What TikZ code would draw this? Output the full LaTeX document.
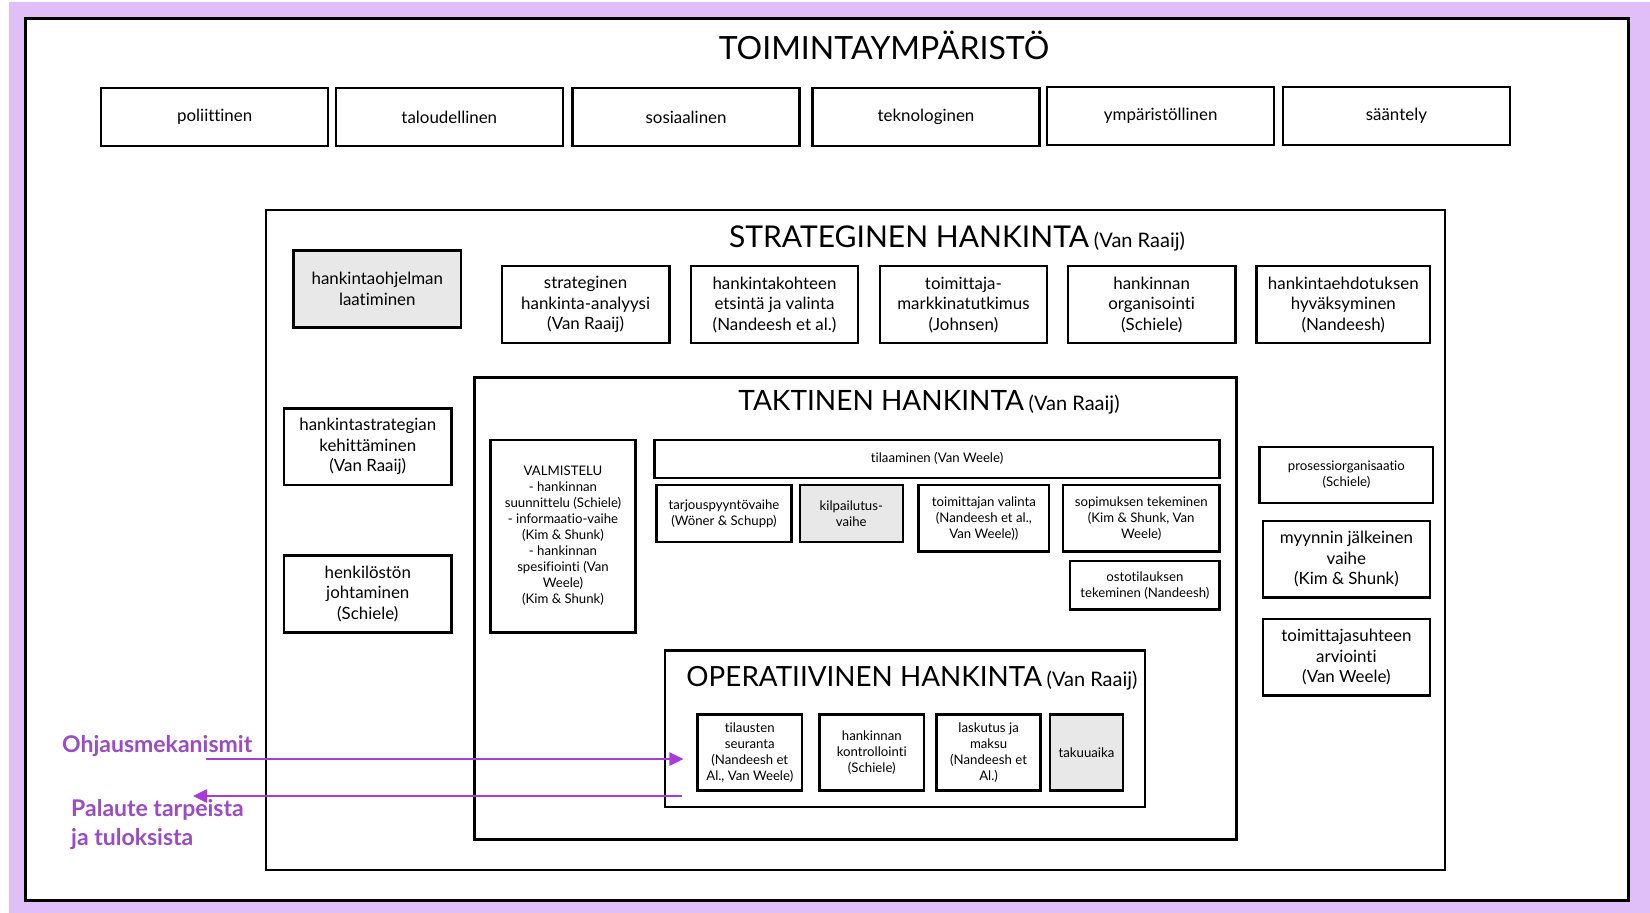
\documentclass[tikz,border=0pt]{standalone}
\usepackage{fontspec}
\setmainfont{Lato}[Ligatures=NoCommon]
\usetikzlibrary{arrows.meta}
\definecolor{bgpurple}{HTML}{E0BEF8}
\definecolor{arrowpurple}{HTML}{A93BDB}
\definecolor{labelpurple}{HTML}{9A4CC4}
\definecolor{boxgray}{HTML}{E8E8E8}
\newcommand\fsz[2]{\fontsize{#1}{#2}\selectfont}
\begin{document}
\begin{tikzpicture}[x=1pt,y=-1pt,
  box/.style={draw, line width=2.5pt, fill=white, align=center, inner sep=1pt, font=\fsz{16.9}{20.5}},
  smallbox/.style={box, font=\fsz{13.2}{16}},
  graybox/.style={fill=boxgray},
  frame/.style={draw, line width=2.7pt, fill=white, inner sep=0pt},
  ctrl/.style={draw=arrowpurple, line width=2.6pt, -{Triangle[length=14pt,width=13pt]}},
  ctrllabel/.style={text=labelpurple, font=\fsz{23}{29}\bfseries, align=left, inner sep=0pt}]
\useasboundingbox (0,0) rectangle (1650,913);
\fill[bgpurple] (9,2) rectangle (1650,913);
\node[frame, line width=3pt, minimum width=1603, minimum height=882] (env) at (826.5,459) {};
\node[anchor=base, font=\fsz{32}{36}] (envtitle) at (884,59) {TOIMINTAYMPÄRISTÖ};
\node[box, minimum width=227, minimum height=58] (pol) at (214.7,117) {poliittinen};
\node[box, minimum width=227, minimum height=58] (tal) at (449.3,117) {taloudellinen};
\node[box, minimum width=227, minimum height=58] (sos) at (686.1,117) {sosiaalinen};
\node[box, minimum width=227, minimum height=58] (tek) at (926,117) {teknologinen};
\node[box, minimum width=227, minimum height=58] (ymp) at (1160.7,116) {ympäristöllinen};
\node[box, minimum width=227, minimum height=58] (saa) at (1396.4,116) {sääntely};
\node[frame, minimum width=1179, minimum height=660] (strat) at (855.5,540) {};
\node[anchor=base] (strattitle) at (957,247) {\fsz{30}{34}STRATEGINEN HANKINTA\,\fsz{20}{24}(Van Raaij)};
\node[box, graybox, minimum width=167.3, minimum height=76.8] (ohjelma) at (377.3,288.9) {hankintaohjelman\\laatiminen};
\node[box, minimum width=167.3, minimum height=76.8] (analyysi) at (585.6,304.6) {strateginen\\hankinta-analyysi\\(Van Raaij)};
\node[box, minimum width=167.3, minimum height=76.8] (kohde) at (774.5,304.6) {hankintakohteen\\etsintä ja valinta\\(Nandeesh et al.)};
\node[box, minimum width=167.3, minimum height=76.8] (markkina) at (963.4,304.6) {toimittaja-\\markkinatutkimus\\(Johnsen)};
\node[box, minimum width=167.3, minimum height=76.8] (organ) at (1151.7,304.6) {hankinnan\\organisointi\\(Schiele)};
\node[box, minimum width=173.6, minimum height=76.8] (hyvaks) at (1343.3,304.6) {hankintaehdotuksen\\hyväksyminen\\(Nandeesh)};
\node[box, minimum width=167.3, minimum height=76.8] (kehitys) at (367.8,446.7) {hankintastrategian\\kehittäminen\\(Van Raaij)};
\node[box, minimum width=167.3, minimum height=76.8] (henkilo) at (367.8,594) {henkilöstön\\johtaminen\\(Schiele)};
\node[smallbox, minimum width=173.6, minimum height=55.8] (prosessi) at (1346.4,475.1) {prosessiorganisaatio\\(Schiele)};
\node[box, minimum width=167.3, minimum height=76.8] (myynti) at (1346.4,559.3) {myynnin jälkeinen\\vaihe\\(Kim \& Shunk)};
\node[box, minimum width=167.3, minimum height=76.8] (suhde) at (1346.4,657.2) {toimittajasuhteen\\arviointi\\(Van Weele)};
\node[frame, minimum width=762, minimum height=462] (takt) at (855.5,608.7) {};
\node[anchor=base] (takttitle) at (929,410) {\fsz{28}{32}TAKTINEN HANKINTA\,\fsz{20}{24}(Van Raaij)};
\node[smallbox, minimum width=145.2, minimum height=192.6] (valm) at (563,536.1) {VALMISTELU\\- hankinnan\\suunnittelu (Schiele)\\- informaatio-vaihe\\(Kim \& Shunk)\\- hankinnan\\spesifiointi (Van\\Weele)\\(Kim \& Shunk)};
\node[smallbox, minimum width=565, minimum height=37.9] (tilaus) at (937.1,458.8) {tilaaminen (Van Weele)};
\node[smallbox, minimum width=134.7, minimum height=56.8] (tarjous) at (724,513.5) {tarjouspyyntövaihe\\(Wöner \& Schupp)};
\node[smallbox, graybox, minimum width=103.1, minimum height=56.8] (kilpailu) at (851.3,513.5) {kilpailutus-\\vaihe};
\node[smallbox, minimum width=130.5, minimum height=66.3] (valinta) at (983.9,518.3) {toimittajan valinta\\(Nandeesh et al.,\\Van Weele))};
\node[smallbox, minimum width=156.8, minimum height=66.3] (sopimus) at (1141.2,518.3) {sopimuksen tekeminen\\(Kim \& Shunk, Van\\Weele)};
\node[smallbox, minimum width=149.4, minimum height=48.4] (osto) at (1144.9,585.1) {ostotilauksen\\tekeminen (Nandeesh)};
\node[frame, minimum width=479.8, minimum height=156.8] (oper) at (905,728.7) {};
\node[anchor=base] (opertitle) at (912,686) {\fsz{27.8}{32}OPERATIIVINEN HANKINTA\,\fsz{20}{24}(Van Raaij)};
\node[smallbox, minimum width=104.2, minimum height=75.8] (seur) at (749.8,752.4) {tilausten\\seuranta\\(Nandeesh et\\Al., Van Weele)};
\node[smallbox, minimum width=104.2, minimum height=75.8] (kontr) at (871.8,752.4) {hankinnan\\kontrollointi\\(Schiele)};
\node[smallbox, minimum width=104.2, minimum height=75.8] (lasku) at (988.6,752.4) {laskutus ja\\maksu\\(Nandeesh et\\Al.)};
\node[smallbox, graybox, minimum width=72.6, minimum height=75.8] (takuu) at (1086.5,752.4) {takuuaika};
\node[ctrllabel, anchor=west] (ohjlabel) at (62,746) {Ohjausmekanismit};
\node[ctrllabel, anchor=west] (palabel) at (71,824.5) {Palaute tarpeista\\ja tuloksista};
\coordinate (ctrlin) at (206,759);
\coordinate (fbstart) at (682,796);
\coordinate (fbend) at (193,796);
\draw[ctrl, shorten >=13pt] (ctrlin) -- (seur.west |- ctrlin);
\draw[ctrl] (fbstart) -- (fbend);
\end{tikzpicture}
\end{document}
